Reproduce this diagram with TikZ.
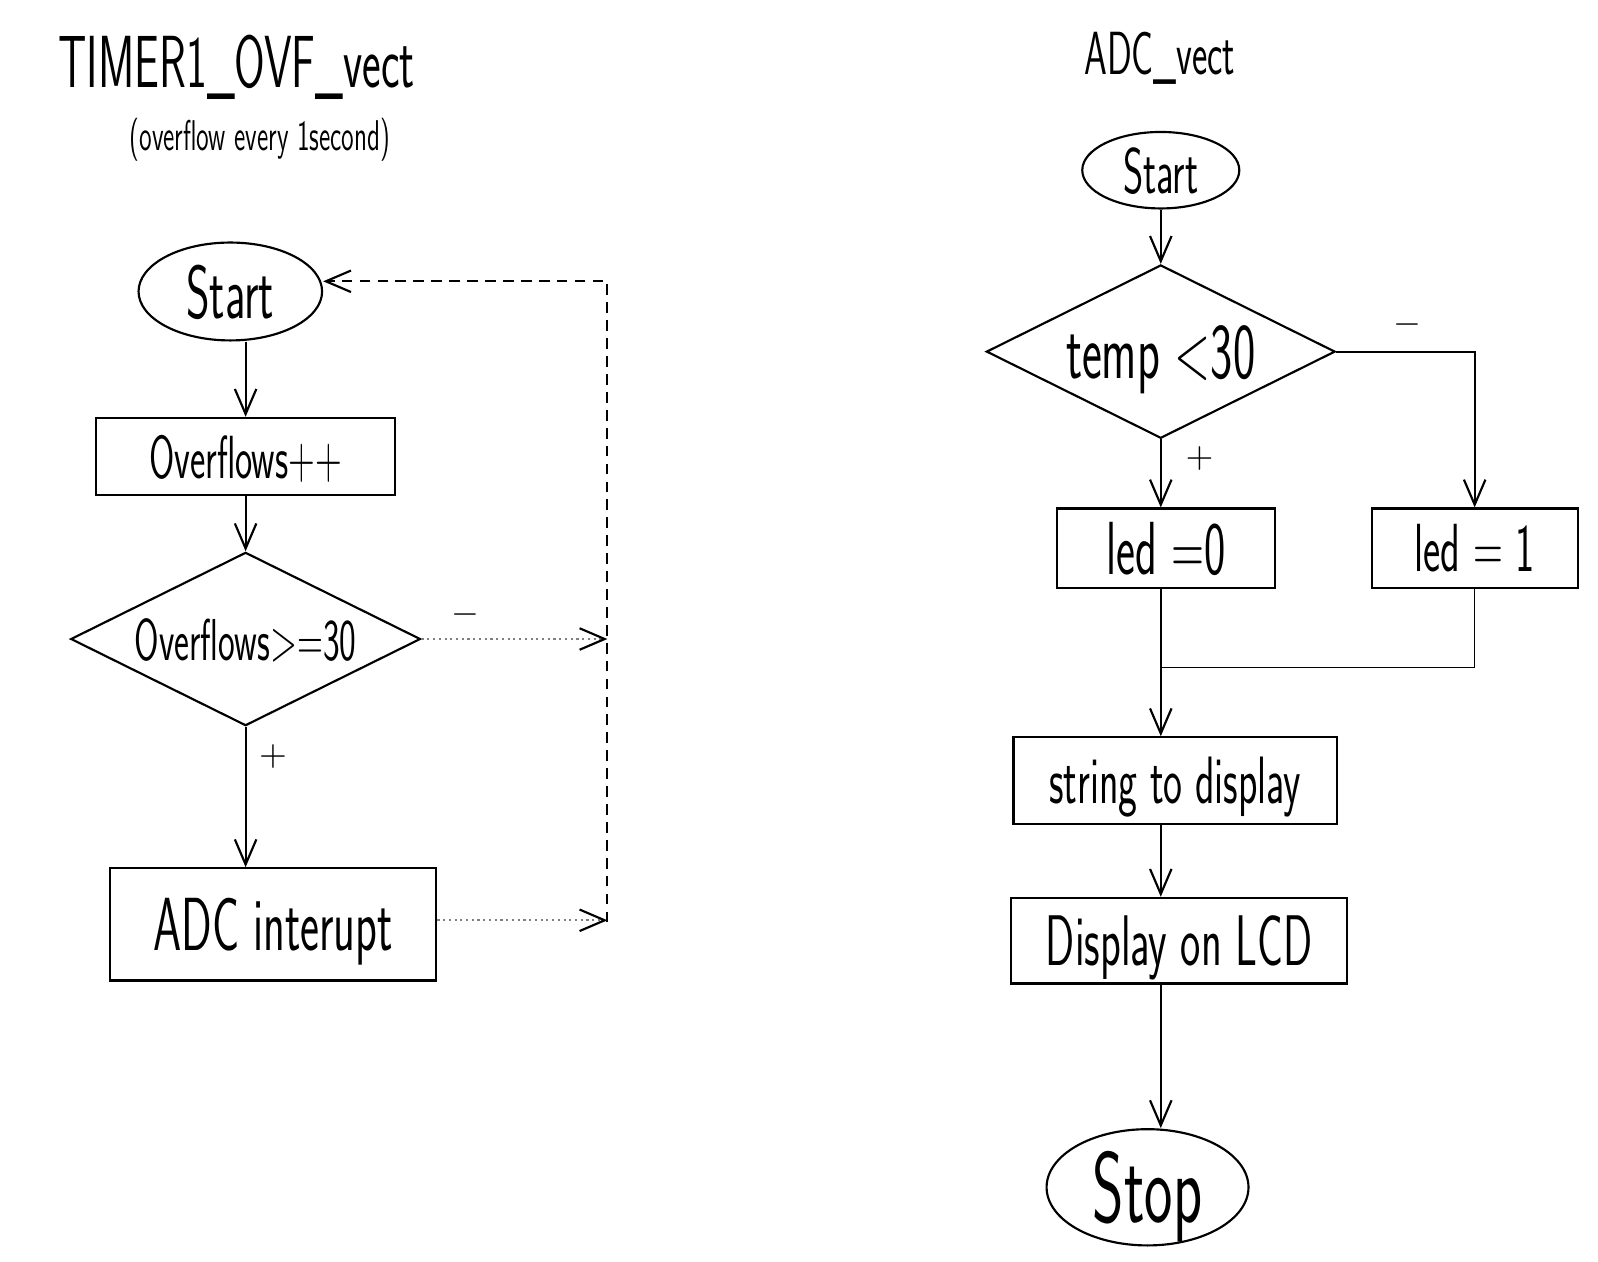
\documentclass[tikz,border=0pt]{standalone}
\usepackage{graphicx}
\usetikzlibrary{positioning, shapes.geometric, arrows.meta}
\renewcommand{\familydefault}{\sfdefault}
\newcommand{\hw}[1]{\scalebox{0.6}[1]{#1}}
\newcommand{\fsz}[1]{\fontsize{#1}{#1}\selectfont}

\tikzset{
  arr/.style={-{Straight Barb[length=7pt,width=6pt,color=black]}, line width=0.6pt},
  blockbox/.style={draw, line width=0.6pt, rectangle, inner sep=0pt, text depth=0pt},
  decision/.style={draw, line width=0.6pt, diamond, aspect=2, inner sep=0pt, text depth=0pt},
  terminal/.style={draw, line width=0.6pt, ellipse, inner sep=0pt, text depth=0pt},
  loopline/.style={densely dashed, line width=0.45pt},
  dotline/.style={densely dotted, gray, line width=0.6pt},
  sign/.style={font=\fsz{10}},
  heading/.style={inner sep=0pt, text depth=0pt},
}

\begin{document}
\begin{tikzpicture}[x=0.01cm, y=-0.01cm]
\useasboundingbox (0,0) rectangle (1568,1238);

% TIMER1 overflow routine
\node[heading, font=\fsz{20.6}] (titleA) at (232,60) {\hw{TIMER1\_OVF\_vect}};
\node[heading, font=\fsz{12}] (noteA) at (255,132) {\hw{(overflow every 1second)}};

\node[terminal, minimum width=1.80cm, minimum height=0.96cm, font=\fsz{21}] (startA) at (226,286) {\hw{Start}};
\node[blockbox, minimum width=2.93cm, minimum height=0.76cm, font=\fsz{17}] (incA) at (241,448) {\hw{Overflows++}};
\node[decision, minimum width=3.43cm, minimum height=1.70cm, font=\fsz{16.5}] (testA) at (241,627) {\hw{Overflows>=30}};
\node[blockbox, minimum width=3.20cm, minimum height=1.10cm, font=\fsz{21}] (adcA) at (268,907) {\hw{ADC interupt}};

\coordinate (loopT) at (596,276);
\coordinate (loopB) at (596,905);

\draw[arr] (startA.south -| incA.north) -- (incA.north);
\draw[arr] (incA) -- (testA);
\draw[arr] (testA.south) -- (testA.south |- adcA.north);
\node[sign] (plusA) at (268,742) {$+$};

\draw[dotline, arr] (testA.east) -- (testA.east -| loopT);
\draw[dotline, arr] (adcA.east |- 0,903) -- (loopT |- 0,903);
\node[sign] (minusA) at (457,603) {$-$};
\draw[loopline, arr] (loopB) -- (loopT) -- (loopT -| startA.east);

% ADC conversion routine
\node[heading, font=\fsz{17}] (titleB) at (1138,52) {\hw{ADC\_vect}};

\node[terminal, minimum width=1.54cm, minimum height=0.75cm, font=\fsz{18}] (startB) at (1139,167) {\hw{Start}};
\node[decision, minimum width=3.42cm, minimum height=1.70cm, font=\fsz{22}] (testB) at (1139,345) {\hw{temp <30}};
\node[blockbox, minimum width=2.14cm, minimum height=0.78cm, font=\fsz{21}] (led0) at (1144,538) {\hw{led =0}};
\node[blockbox, minimum width=2.02cm, minimum height=0.78cm, font=\fsz{19}] (led1) at (1447,538) {\hw{led = 1}};
\node[blockbox, minimum width=3.17cm, minimum height=0.85cm, font=\fsz{18.7}] (strB) at (1153,766) {\hw{string to display}};
\node[blockbox, minimum width=3.29cm, minimum height=0.84cm, font=\fsz{20}] (lcdB) at (1157,923) {\hw{Display on LCD}};
\node[terminal, minimum width=1.98cm, minimum height=1.14cm, font=\fsz{28}] (stopB) at (1126,1165) {\hw{Stop}};

\coordinate (join) at (1139,655);

\draw[arr] (startB) -- (testB);
\draw[arr] (testB.south) -- (testB.south |- led0.north);
\draw[arr] (testB.east) -| (led1.north);
\node[sign] (plusB) at (1177,450) {$+$};
\node[sign] (minusB) at (1381,318) {$-$};

\draw (led1.south) |- (join);
\draw[arr] (led0.south -| join) -- (strB.north -| join);
\draw[arr] (strB.south -| join) -- (lcdB.north -| join);
\draw[arr] (lcdB.south -| join) -- (stopB.north -| join);
\end{tikzpicture}
\end{document}
